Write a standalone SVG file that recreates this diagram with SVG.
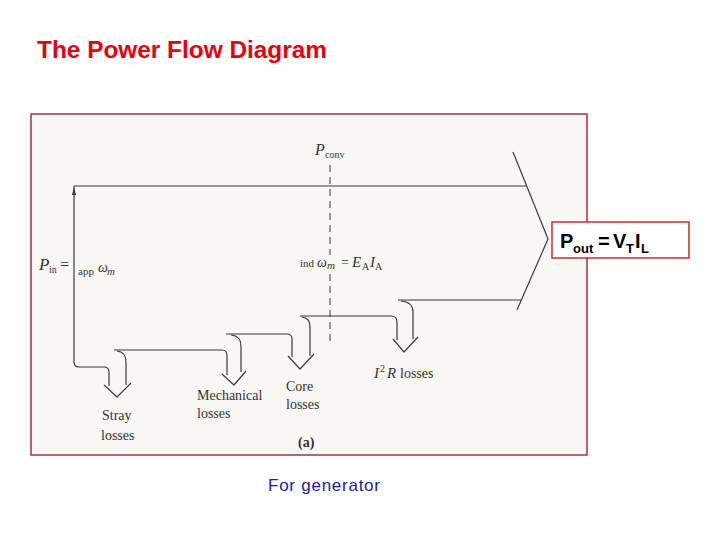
<svg xmlns="http://www.w3.org/2000/svg" width="720" height="540" viewBox="0 0 720 540">
<defs>
<style>
.ln{fill:none;stroke:#3a3a3a;stroke-width:1.2;stroke-linejoin:round}
.dash{fill:none;stroke:#3a3a3a;stroke-width:1;stroke-dasharray:7 5}
.t{font-family:"Liberation Serif","Times New Roman",serif;fill:#333;font-size:14px}
.it{font-style:italic}
.pb{font-family:"Liberation Sans",Arial,sans-serif;font-weight:bold;fill:#000}
</style>
</defs>
<rect width="720" height="540" fill="#fff"/>
<g id="title"><text x="37" y="58" font-family="Liberation Sans, Arial, sans-serif" font-weight="bold" font-size="23" fill="#e3000f" textLength="290" lengthAdjust="spacingAndGlyphs">The Power Flow Diagram</text></g>
<g id="frame"><rect x="31" y="114" width="556" height="341" fill="#f8f7f4" stroke="#a5323c" stroke-width="1.5"/></g>
<g id="connectors">
<path class="ln" d="M74,186 L527,186"/>
<path class="ln" d="M513,152 L548,239 L517,310"/>
<path class="ln" d="M74,186 L74,362 Q74,367 79,367 L104,367 Q109,367 109,372 L109,386"/>
<path fill="#3a3a3a" d="M72,195 L74,187 L76,195 Z"/>
<path class="ln" d="M114,350 L222,350 Q227,350 227,356 L227,375"/>
<path class="ln" d="M117,351 Q126,352 126,362 L126,385"/>
<path class="ln" d="M226,334 L287,334 Q292,334 292,339 L292,357"/>
<path class="ln" d="M231,335 Q241,336 241,346 L241,372"/>
<path class="ln" d="M300,316 L391,316 Q397,316 397,322 L397,340"/>
<path class="ln" d="M302,317 Q310,318 310,327 L310,356"/>
<path class="ln" d="M398,300 L521,300"/>
<path class="ln" d="M401,301 Q413,302 413,312 L413,339"/>
<path class="ln" d="M104,385 L117,397 L131,383"/>
<path class="ln" d="M222,374 L234,385 L246,371"/>
<path class="ln" d="M288,356 L300,369 L314,354"/>
<path class="ln" d="M393,339 L404,352 L418,337"/>
<path class="dash" d="M330,165 L330,255"/>
<path class="dash" d="M330,274 L330,342"/>
</g>
<g id="pin"><text class="t" y="270"><tspan x="39" class="it" font-size="17">P</tspan><tspan x="49" y="273" font-size="10">in</tspan><tspan x="60" y="270" font-size="16">=</tspan><tspan x="78" y="275" font-size="11">app</tspan><tspan x="98" y="272" class="it" font-size="14">ω</tspan><tspan x="107" y="275" class="it" font-size="11">m</tspan></text></g>
<g id="pconv"><text class="t" y="155"><tspan x="315" class="it" font-size="16">P</tspan><tspan x="325" y="158" font-size="10">conv</tspan></text></g>
<g id="eq"><text class="t" y="267"><tspan x="300" font-size="11">ind</tspan><tspan x="317" class="it" font-size="14">ω</tspan><tspan x="327" y="269" class="it" font-size="11">m</tspan><tspan x="341" y="267" font-size="14">=</tspan><tspan x="352" class="it" font-size="15">E</tspan><tspan x="362" y="270" font-size="10">A</tspan><tspan x="370" y="267" class="it" font-size="15">I</tspan><tspan x="375" y="270" font-size="10">A</tspan></text></g>
<g id="stray"><text class="t" x="102" y="420">Stray</text><text class="t" x="101" y="440">losses</text></g>
<g id="mech"><text class="t" x="197" y="400">Mechanical</text><text class="t" x="197" y="418">losses</text></g>
<g id="core"><text class="t" x="286" y="391">Core</text><text class="t" x="286" y="409">losses</text></g>
<g id="i2r"><text class="t" y="378"><tspan x="374" class="it" font-size="15">I</tspan><tspan x="380" y="372" font-size="10">2</tspan><tspan x="387" y="378" class="it" font-size="15">R</tspan><tspan x="400" font-size="14">losses</tspan></text></g>
<g id="label-a"><text class="t" x="298" y="447" font-weight="bold">(a)</text></g>
<g id="pout"><rect x="552" y="222" width="137" height="36" fill="#fff" stroke="#c0303a" stroke-width="1.5"/>
<text class="pb" y="248" font-size="20"><tspan x="560">P</tspan><tspan x="573" y="253" font-size="13">out</tspan><tspan x="598" y="248">=</tspan><tspan x="613">V</tspan><tspan x="626" y="253" font-size="13">T</tspan><tspan x="635" y="248">I</tspan><tspan x="641" y="253" font-size="13">L</tspan></text></g>
<g id="caption"><text x="268" y="491" font-family="Liberation Sans, Arial, sans-serif" font-size="17" fill="#1c1c9c" textLength="112">For generator</text></g>
</svg>
